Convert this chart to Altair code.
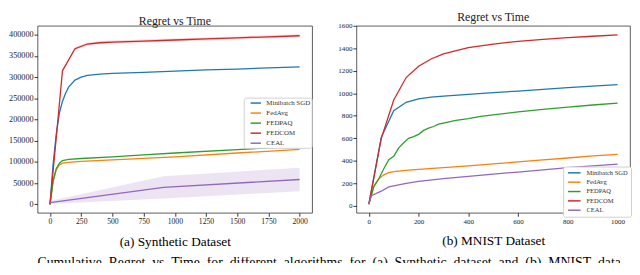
import altair as alt
import pandas as pd

names = ["Minibatch SGD", "FedAvg", "FEDPAQ", "FEDCOM", "CEAL"]
colors = ["#1f77b4", "#ff7f0e", "#2ca02c", "#d62728", "#9467bd"]

# ---- Synthetic dataset (left) ----
syn_sgd_t = [0, 25, 50, 75, 100, 125, 150, 200, 250, 300, 400, 500, 750, 1000, 1250, 1500, 1750, 2000]
syn_sgd_v = [0, 95000, 165000, 215000, 243000, 262000, 277000, 293000, 300000, 304000, 307000, 309000, 311000, 314000, 317000, 319000, 321500, 324000]
syn_avg_t = [0, 25, 50, 75, 100, 150, 250, 500, 750, 1000, 1500, 2000]
syn_avg_v = [0, 55000, 82000, 93000, 97000, 99000, 101000, 105000, 108500, 112000, 121000, 129500]
syn_paq_t = [0, 25, 50, 75, 100, 150, 250, 500, 750, 1000, 1500, 2000]
syn_paq_v = [0, 55000, 84000, 97000, 103000, 106000, 108000, 112000, 116500, 121000, 129000, 137500]
syn_com_t = [0, 100, 200, 300, 400, 500, 750, 1000, 1250, 1500, 1750, 2000]
syn_com_v = [0, 315000, 367000, 378000, 381000, 382500, 385000, 387500, 390000, 392500, 395000, 397500]
syn_ceal_t = [0, 910, 2000]
syn_ceal_v = [4000, 40000, 58500]
syn_ceal_lo = [1000, 13500, 31000]
syn_ceal_hi = [8000, 66000, 86500]

# ---- MNIST dataset (right) ----
mn_sgd_t = [0, 50, 100, 150, 200, 250, 300, 400, 500, 600, 700, 800, 900, 1000]
mn_sgd_v = [15, 610, 845, 920, 950, 965, 975, 990, 1005, 1020, 1035, 1050, 1063, 1077]
mn_avg_t = [0, 20, 40, 60, 80, 100, 150, 200, 300, 400, 500, 600, 700, 800, 900, 1000]
mn_avg_v = [15, 175, 240, 275, 295, 303, 315, 324, 340, 355, 372, 390, 408, 425, 443, 458]
mn_paq_t = [0, 20, 40, 60, 80, 100, 120, 140, 160, 180, 200, 220, 240, 260, 280, 300, 350, 400, 450, 500, 600, 700, 800, 900, 1000]
mn_paq_v = [15, 170, 240, 330, 410, 440, 515, 560, 600, 615, 635, 670, 690, 705, 725, 735, 760, 775, 794, 808, 835, 858, 878, 896, 913]
mn_com_t = [0, 50, 100, 150, 200, 250, 300, 400, 500, 600, 700, 800, 900, 1000]
mn_com_v = [15, 600, 940, 1140, 1240, 1305, 1350, 1405, 1438, 1462, 1480, 1494, 1507, 1520]
mn_ceal_t = [0, 10, 50, 80, 100, 150, 200, 300, 400, 500, 600, 700, 800, 900, 1000]
mn_ceal_v = [15, 90, 130, 168, 178, 200, 218, 242, 262, 282, 300, 320, 340, 355, 370]

syn_x_ticks = [0, 250, 500, 750, 1000, 1250, 1500, 1750, 2000]
syn_y_ticks = [0, 50000, 100000, 150000, 200000, 250000, 300000, 350000, 400000]
mn_x_ticks = [0, 200, 400, 600, 800, 1000]
mn_y_ticks = [0, 200, 400, 600, 800, 1000, 1200, 1400, 1600]

caption_words = ["Cumulative", "Regret", "vs", "Time", "for", "different", "algorithms", "for",
                 "(a)", "Synthetic", "dataset", "and", "(b)", "MNIST", "dataset"]

FONT = "Liberation Serif"
NB = "\u00a0\u00a0"
PLOT_H = 190


def frame(series):
    rows = []
    for name, ts, vs in series:
        for t, v in zip(ts, vs):
            rows.append({"t": t, "v": v, "alg": name})
    return pd.DataFrame(rows)


def panel(series, bands, xdom, ydom, xt, yt, caption, leg, w, h, xfs, yfs):
    df = frame(series)
    xs = alt.Scale(domain=xdom, nice=False, zero=False)
    ys = alt.Scale(domain=ydom, nice=False, zero=False)
    xax = alt.Axis(values=xt, title=caption, labelFont=FONT, labelFontSize=xfs,
                   titleFont=FONT, titleFontSize=13.5, titleFontWeight="normal",
                   titleColor="black", titlePadding=10, grid=False, domain=False,
                   tickSize=3.5, tickColor="#333", labelColor="#222", format="d",
                   labelPadding=1)
    yax = alt.Axis(values=yt, title=None, labelFont=FONT, labelFontSize=yfs,
                   grid=False, domain=False, tickSize=3.5, tickColor="#333",
                   labelColor="#222", format="d", labelPadding=1)
    layers = []
    for (ts, lo, hi, col) in bands:
        bdf = pd.DataFrame({"t": ts, "lo": lo, "hi": hi})
        layers.append(alt.Chart(bdf).mark_area(opacity=0.18, color=col).encode(
            x=alt.X("t:Q", scale=xs, axis=xax),
            y=alt.Y("lo:Q", scale=ys, axis=yax),
            y2="hi:Q"))
    lines = alt.Chart(df).mark_line(strokeWidth=1.3).encode(
        x=alt.X("t:Q", scale=xs, axis=xax),
        y=alt.Y("v:Q", scale=ys, axis=yax),
        color=alt.Color("alg:N", scale=alt.Scale(domain=names, range=colors),
                        legend=alt.Legend(title=None, orient="none", legendX=leg["x"], legendY=leg["y"],
                                          labelFont=FONT, labelFontSize=leg["fs"],
                                          symbolType=leg["path"], symbolSize=leg["size"],
                                          symbolStrokeWidth=1.5, labelOffset=leg["lo"],
                                          rowPadding=leg["rp"], padding=leg["pad"],
                                          strokeColor="#d0d0d0", fillColor="white",
                                          cornerRadius=2, labelColor="#333")),
        order="t:Q")
    layers.append(lines)
    return alt.layer(*layers).properties(
        width=w, height=h,
        title=alt.TitleParams("Regret vs Time", font=FONT, fontSize=12, fontWeight="normal",
                              color="#222", offset=-2))


syn_series = [(names[0], syn_sgd_t, syn_sgd_v), (names[1], syn_avg_t, syn_avg_v),
              (names[2], syn_paq_t, syn_paq_v), (names[3], syn_com_t, syn_com_v),
              (names[4], syn_ceal_t, syn_ceal_v)]
com_lo = [v - 3500 if v > 0 else 0 for v in syn_com_v]
com_hi = [v + 3500 if v > 0 else 0 for v in syn_com_v]
syn_bands = [(syn_ceal_t, syn_ceal_lo, syn_ceal_hi, colors[4]),
             (syn_com_t, com_lo, com_hi, colors[3])]
mn_series = [(names[0], mn_sgd_t, mn_sgd_v), (names[1], mn_avg_t, mn_avg_v),
             (names[2], mn_paq_t, mn_paq_v), (names[3], mn_com_t, mn_com_v),
             (names[4], mn_ceal_t, mn_ceal_v)]

leg_left = {"x": 209.5, "y": 73, "fs": 7, "path": "M0.43,0H3.43", "size": 49,
            "lo": 13, "rp": 2.2, "pad": 1}
leg_right = {"x": 210, "y": 143, "fs": 6.6, "path": "M-0.47,0H3.77", "size": 36,
             "lo": 13.3, "rp": 1.5, "pad": 2.4}

left = panel(syn_series, syn_bands, [-100, 2100], [-20000, 421000], syn_x_ticks, syn_y_ticks,
             "(a) Synthetic Dataset", leg_left, 279, PLOT_H, 7.8, 8.3)
right = panel(mn_series, [], [-50, 1050], [-62, 1600], mn_x_ticks, mn_y_ticks,
              "(b) MNIST Dataset", leg_right, 278, PLOT_H, 7.1, 7.2)

panels = alt.hconcat(left, right, spacing=24).resolve_legend(color="independent")

cap_df = pd.DataFrame({"caption": [NB.join(caption_words)]})
cap = alt.Chart(cap_df).mark_text(align="left", baseline="top", font=FONT, fontSize=14,
                                  color="black", clip=True).encode(
    text="caption:N", x=alt.value(0), y=alt.value(-1)
).properties(width=592, height=6, view=alt.ViewConfig(stroke="transparent"))

chart = alt.vconcat(panels, cap, spacing=7).resolve_legend(color="independent").properties(
    padding=0
).configure_view(stroke="#333", strokeWidth=0.8)

chart.save("out.html", embed_options={"renderer": "svg", "actions": False})
